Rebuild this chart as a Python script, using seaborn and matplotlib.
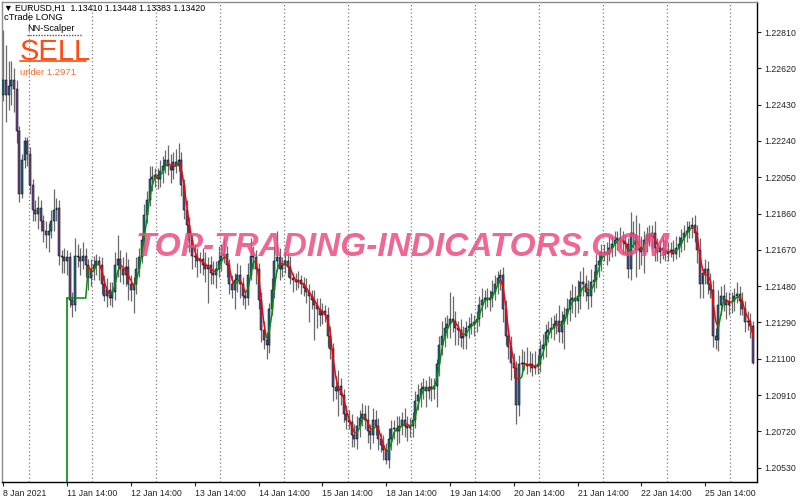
import numpy as np
import pandas as pd
import matplotlib
matplotlib.use("Agg")
import matplotlib.pyplot as plt
import matplotlib.transforms as mtrans
from matplotlib.collections import LineCollection
from matplotlib.lines import Line2D
import seaborn as sns

# EURUSD H1 closes, one list per trading day
close_jan08 = [1.2256, 1.2248, 1.2253, 1.2256, 1.2251, 1.2229, 1.2196, 1.2214, 1.2224, 1.2217]
close_jan11 = [1.2201, 1.2188, 1.2186, 1.2189, 1.2182, 1.2177, 1.2175, 1.2177, 1.2182, 1.2188, 1.2189, 1.2164,
               1.2163, 1.2161, 1.2163, 1.2141, 1.2138, 1.2164, 1.2163, 1.2161, 1.2164, 1.2159, 1.2152, 1.2157]
close_jan12 = [1.2159, 1.2161, 1.2159, 1.2149, 1.2143, 1.2146, 1.2142, 1.2145, 1.2159, 1.2162, 1.2157, 1.2154,
               1.2158, 1.2149, 1.2146, 1.2149, 1.2157, 1.2163, 1.2172, 1.2185, 1.2193, 1.2204, 1.2205, 1.2206]
close_jan13 = [1.2204, 1.2208, 1.2211, 1.2214, 1.2211, 1.2209, 1.2213, 1.2211, 1.2214, 1.2201, 1.2188, 1.2180,
               1.2172, 1.2164, 1.2163, 1.2161, 1.2162, 1.2159, 1.2157, 1.2159, 1.2155, 1.2154, 1.2157, 1.2161]
close_jan14 = [1.2164, 1.2165, 1.2159, 1.2149, 1.2146, 1.2151, 1.2154, 1.2149, 1.2143, 1.2142, 1.2154, 1.2164,
               1.2163, 1.2157, 1.2141, 1.2125, 1.2120, 1.2117, 1.2136, 1.2146, 1.2161, 1.2163, 1.2157, 1.2159]
close_jan15 = [1.2161, 1.2158, 1.2152, 1.2151, 1.2150, 1.2151, 1.2149, 1.2147, 1.2145, 1.2143, 1.2141, 1.2138,
               1.2136, 1.2133, 1.2135, 1.2133, 1.2122, 1.2115, 1.2095, 1.2093, 1.2096, 1.2091, 1.2081, 1.2078]
close_jan18 = [1.2077, 1.2070, 1.2068, 1.2075, 1.2079, 1.2081, 1.2078, 1.2072, 1.2070, 1.2078, 1.2075, 1.2068,
               1.2065, 1.2062, 1.2057, 1.2068, 1.2073, 1.2074, 1.2072, 1.2075, 1.2078, 1.2075, 1.2074, 1.2075]
close_jan19 = [1.2078, 1.2088, 1.2091, 1.2094, 1.2095, 1.2093, 1.2095, 1.2094, 1.2096, 1.2107, 1.2117, 1.2122,
               1.2126, 1.2128, 1.2131, 1.2130, 1.2126, 1.2125, 1.2121, 1.2122, 1.2126, 1.2127, 1.2128, 1.2129]
close_jan20 = [1.2131, 1.2138, 1.2141, 1.2142, 1.2141, 1.2142, 1.2145, 1.2149, 1.2152, 1.2154, 1.2136, 1.2122,
               1.2116, 1.2108, 1.2105, 1.2086, 1.2107, 1.2108, 1.2107, 1.2106, 1.2107, 1.2105, 1.2106, 1.2107]
close_jan21 = [1.2115, 1.2117, 1.2124, 1.2125, 1.2126, 1.2128, 1.2130, 1.2124, 1.2130, 1.2133, 1.2136, 1.2141,
               1.2142, 1.2140, 1.2143, 1.2150, 1.2149, 1.2145, 1.2143, 1.2150, 1.2151, 1.2159, 1.2161, 1.2166]
close_jan22 = [1.2166, 1.2165, 1.2168, 1.2170, 1.2172, 1.2173, 1.2172, 1.2171, 1.2170, 1.2157, 1.2176, 1.2175,
               1.2167, 1.2168, 1.2166, 1.2172, 1.2175, 1.2174, 1.2176, 1.2168, 1.2166, 1.2168, 1.2167, 1.2165]
close_jan25 = [1.2166, 1.2167, 1.2165, 1.2168, 1.2170, 1.2173, 1.2176, 1.2177, 1.2179, 1.2180, 1.2176, 1.2167,
               1.2149, 1.2155, 1.2157, 1.2149, 1.2146, 1.2122, 1.2120, 1.2138, 1.2143, 1.2141, 1.2138, 1.2140]
close_jan26 = [1.2140, 1.2143, 1.2144, 1.2140, 1.2136, 1.2129, 1.2130, 1.2127, 1.2108]
first_open = 1.2248

# wick lengths beyond the body, in pips
wick_up = [26, 18, 13, 10, 6, 5, 3, 3, 2, 2,
           4, 3, 5, 6, 4, 3, 5, 4, 6, 11, 5, 4, 3, 5, 4, 3, 4, 9, 6, 5, 7, 4, 3, 5,
           5, 4, 3, 4, 5, 6, 4, 5, 7, 13, 5, 6, 8, 4, 5, 4, 6, 5, 4, 6, 5, 7, 6, 4,
           4, 6, 5, 5, 8, 6, 5, 7, 9, 4, 3, 5, 4, 3, 6, 5, 4, 6, 7, 4, 5, 6, 4, 8,
           6, 8, 4, 3, 5, 4, 6, 5, 4, 3, 6, 9, 5, 4, 3, 4, 5, 4, 3, 6, 8, 14, 5, 4,
           5, 4, 6, 3, 4, 5, 3, 4, 5, 4, 3, 5, 4, 6, 4, 3, 4, 5, 3, 6, 8, 4, 3, 5,
           5, 4, 6, 5, 4, 6, 5, 8, 4, 6, 5, 4, 3, 5, 4, 6, 5, 4, 6, 5, 4, 6, 5, 4,
           4, 5, 6, 4, 5, 4, 6, 5, 4, 3, 5, 8, 6, 5, 14, 12, 5, 4, 6, 5, 4, 5, 6, 4,
           4, 5, 6, 4, 5, 4, 6, 5, 4, 3, 4, 5, 4, 6, 5, 4, 5, 7, 6, 9, 7, 6, 8, 5,
           5, 6, 4, 5, 6, 5, 4, 8, 5, 4, 6, 5, 7, 6, 8, 6, 8, 5, 6, 7, 5, 6, 5, 4,
           4, 5, 6, 4, 5, 4, 6, 5, 4, 3, 11, 6, 10, 13, 6, 5, 4, 5, 4, 6, 5, 4, 6, 5,
           5, 4, 5, 6, 4, 5, 4, 5, 3, 4, 5, 4, 6, 2, 5, 4, 6, 5, 4, 8, 5, 6, 4, 5,
           5, 4, 6, 4, 5, 4, 5, 4, 3]
wick_dn = [3, 14, 8, 10, 12, 6, 4, 2, 4, 6,
           5, 6, 4, 8, 5, 6, 7, 9, 4, 5, 6, 5, 8, 6, 7, 4, 6, 3, 5, 7, 4, 6, 6, 4,
           6, 5, 8, 5, 3, 6, 4, 5, 4, 6, 7, 5, 6, 8, 6, 12, 5, 4, 3, 5, 4, 3, 6, 5,
           5, 4, 6, 4, 5, 7, 5, 4, 3, 6, 5, 4, 6, 7, 5, 8, 6, 5, 7, 18, 6, 5, 7, 4,
           5, 4, 6, 5, 4, 10, 6, 7, 5, 6, 4, 3, 6, 8, 5, 6, 5, 7, 4, 3, 4, 5, 6, 4,
           4, 5, 3, 6, 4, 3, 5, 4, 6, 14, 5, 18, 10, 6, 5, 4, 6, 5, 7, 4, 13, 5, 4, 5,
           4, 6, 4, 5, 6, 4, 5, 6, 7, 4, 5, 6, 4, 5, 2, 4, 6, 5, 7, 6, 5, 6, 7, 5,
           6, 4, 5, 6, 5, 8, 4, 6, 5, 11, 6, 5, 6, 5, 7, 6, 9, 8, 5, 6, 7, 5, 4, 6,
           5, 4, 6, 5, 4, 6, 5, 4, 5, 6, 7, 5, 6, 9, 5, 10, 6, 4, 3, 4, 3, 4, 3, 4,
           4, 5, 6, 5, 4, 6, 5, 5, 6, 15, 5, 6, 7, 8, 6, 7, 6, 5, 7, 6, 5, 4, 6, 5,
           5, 6, 4, 5, 6, 5, 4, 6, 5, 5, 6, 7, 14, 10, 7, 11, 6, 5, 6, 7, 5, 6, 5, 4,
           4, 3, 4, 3, 5, 4, 6, 5, 4, 6, 5, 7, 7, 7, 6, 5, 4, 6, 5, 6, 5, 6, 7, 5,
           6, 5, 4, 7, 3, 5, 4, 6, 1]

day_names = ["11 Jan", "12 Jan", "13 Jan", "14 Jan", "15 Jan", "18 Jan",
             "19 Jan", "20 Jan", "21 Jan", "22 Jan", "25 Jan"]
long_entry = 1.2142   # cTrade LONG level

days = [close_jan08, close_jan11, close_jan12, close_jan13, close_jan14, close_jan15,
        close_jan18, close_jan19, close_jan20, close_jan21, close_jan22, close_jan25, close_jan26]
close = np.array(sum(days, []))
n = len(close)
open_ = np.concatenate([[first_open], close[:-1]])
high = np.maximum(open_, close) + np.array(wick_up) / 10000
low = np.minimum(open_, close) - np.array(wick_dn) / 10000
df = pd.DataFrame({"open": open_, "high": high, "low": low, "close": close})
df["x"] = np.arange(n)

sns.set_style("white")
plt.rcParams["font.family"] = ["Liberation Sans", "DejaVu Sans"]

fig = plt.figure(figsize=(8, 5), dpi=100)
ax = fig.add_axes([2 / 800, 18 / 500, 755 / 800, 480 / 500])

# day separators (midnight)
first_day = len(close_jan08)
for k in range(len(days) - 1):
    ax.axvline(first_day + 24 * k - 0.5, color="#7a7a7a", lw=0.9, ls=(0, (1, 2)), zorder=1)

ax.vlines(df["x"], df["low"], df["high"], color="#6a6a6a", lw=0.9, zorder=2)
bull = df[df["close"] >= df["open"]]
bear = df[df["close"] < df["open"]]
ax.bar(bull["x"], bull["close"] - bull["open"], bottom=bull["open"], width=0.75,
       color="#1f6e8e", edgecolor="black", linewidth=0.35, zorder=3)
ax.bar(bear["x"], bear["open"] - bear["close"], bottom=bear["close"], width=0.75,
       color="#6e4b8c", edgecolor="black", linewidth=0.35, zorder=3)

# cTrade LONG marker and NN-Scalper line
entry_x = first_day + 14
ax.plot([entry_x, entry_x], [1.2000, long_entry], color="#078a07", lw=1.2, zorder=4)
start = entry_x + 7
ax.plot([entry_x, start], [long_entry, long_entry], color="#078a07", lw=1.1, zorder=4)
ma = df["close"].rolling(3).mean().to_numpy()
xs = np.concatenate([[start], df["x"].to_numpy()[start + 1:]])
ys = np.concatenate([[long_entry], ma[start + 1:]])
segs, cols = [], []
col = "#078a07"
for i in range(len(xs) - 1):
    if ys[i + 1] > ys[i]:
        col = "#078a07"
    elif ys[i + 1] < ys[i]:
        col = "#ff0000"
    segs.append([(xs[i], ys[i]), (xs[i + 1], ys[i + 1])])
    cols.append(col)
ax.add_collection(LineCollection(segs, colors=cols, linewidths=1.1, zorder=4))

ax.set_xlim(-0.5, n + 0.5)
ax.set_ylim(1.20455, 1.22967)

yt = 1.20530 + 0.0019 * np.arange(13)
ax.yaxis.tick_right()
ax.set_yticks(yt)
ax.set_yticklabels([f"{v:.5f}" for v in yt])
xt = [0] + [first_day + 14 + 24 * k for k in range(len(day_names))]
ax.set_xticks(xt)
ax.set_xticklabels(["8 Jan 2021"] + [f"{d} 14:00" for d in day_names])
shift = mtrans.ScaledTranslation(-3 / 100, 0, fig.dpi_scale_trans)
for lbl in ax.get_xticklabels():
    lbl.set_ha("left")
    lbl.set_transform(lbl.get_transform() + shift)
ax.tick_params(axis="y", which="both", right=True, left=False, direction="out", length=3,
               width=0.8, labelsize=6.3, pad=2, colors="#222222")
ax.tick_params(axis="x", bottom=True, direction="out", length=3, width=0.8,
               labelsize=6.3, pad=2, colors="#222222")
for s in ["left", "top"]:
    ax.spines[s].set_color("#8c8c8c")
for s in ["right", "bottom"]:
    ax.spines[s].set_color("black")
for s in ax.spines.values():
    s.set_linewidth(1)

# header texts
fig.text(0.005, 0.984, "\u25bc EURUSD,H1  1.13410 1.13448 1.13383 1.13420", fontsize=6.3,
         va="center", ha="left", color="black")
fig.text(0.005, 0.964, "cTrade LONG", fontsize=6.8, va="center", ha="left", color="black")
fig.text(0.034, 0.943, "NN-Scalper", fontsize=6.6, va="center", ha="left", color="black")
fig.add_artist(Line2D([0.034, 0.102], [0.931, 0.931], transform=fig.transFigure,
                      color="#555555", lw=1, ls=(0, (1, 1))))
fig.text(0.025, 0.881, "SELL", fontsize=21, va="baseline", ha="left", color="#ff4a12")
fig.add_artist(Line2D([0.025, 0.107], [0.878, 0.878], transform=fig.transFigure,
                      color="#ff4a12", lw=1.2))
fig.text(0.025, 0.855, "under 1.2971", fontsize=6.8, va="center", ha="left", color="#ff6a2a")

# watermark
fig.text(0.503, 0.504, "TOP-TRADING-INDICATORS.COM", fontsize=24, fontweight="bold",
         fontstyle="italic", ha="center", va="center", color="#ec4c83", alpha=0.85)

fig.savefig("out.png", dpi=100, facecolor="white")
